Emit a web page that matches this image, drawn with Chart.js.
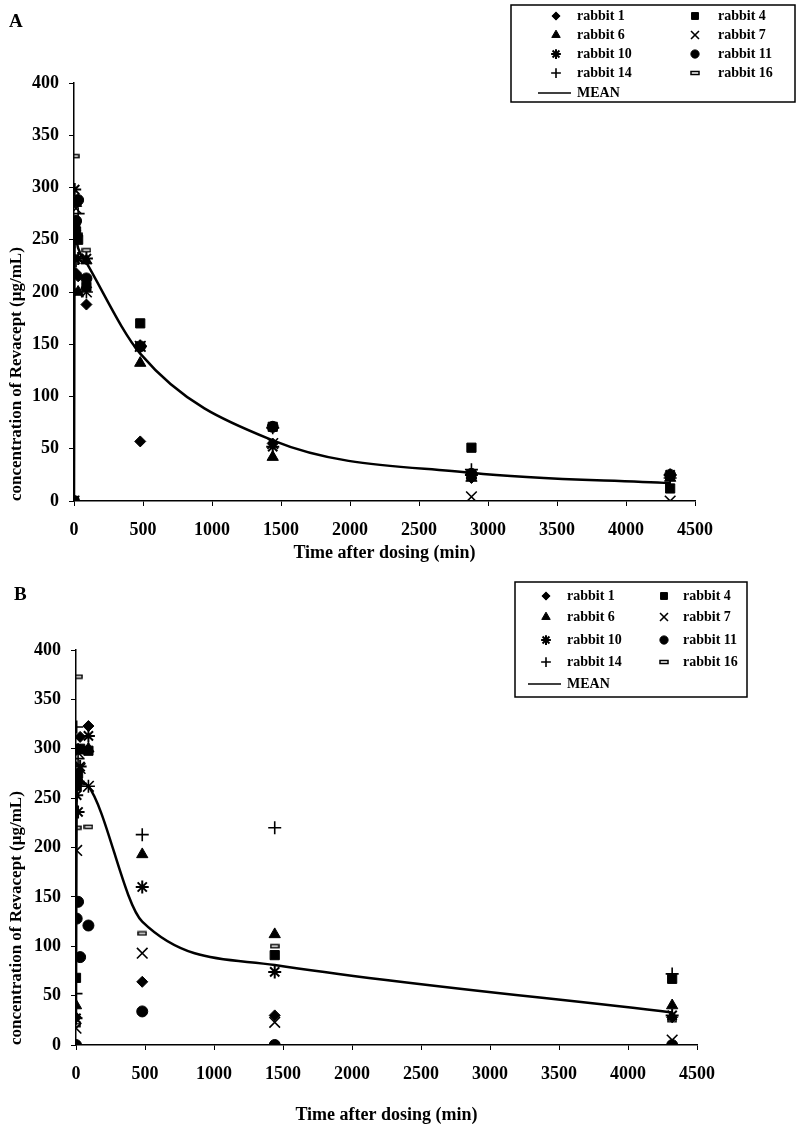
<!DOCTYPE html>
<html>
<head>
<meta charset="utf-8">
<script src="https://cdn.jsdelivr.net/npm/chart.js@4.4.0/dist/chart.umd.min.js"></script>
<style>
    body { margin: 0; background: #fff; width: 800px; height: 1130px; position: relative; overflow: hidden; }
    .panel { position: absolute; left: 0; width: 800px; height: 565px; }
    .tag { position: absolute; font: bold 19px 'Liberation Serif', serif; color: #000; }
</style>
</head>
<body>
<div class="panel" style="top:0"><canvas id="chartA" width="800" height="565"></canvas></div>
<div class="panel" style="top:565px"><canvas id="chartB" width="800" height="565"></canvas></div>
<div class="tag" style="left:9px;top:10px">A</div>
<div class="tag" style="left:14px;top:583px">B</div>
<script>
// sampling times (min)
const timeA = [0, 5, 15, 30, 90, 480, 1440, 2880, 4320];
const timeB = [0, 5, 15, 30, 90, 480, 1440, 4320];

const rabbitLabels = ['rabbit 1', 'rabbit 4', 'rabbit 6', 'rabbit 7', 'rabbit 10', 'rabbit 11', 'rabbit 14', 'rabbit 16'];

// panel A - concentration (µg/mL)
const r1A  = [0, 252, 218, 215, 188, 57, 55, 22, 25];
const r4A  = [0, 262, 258, 250, 205, 170, 71, 51, 12];
const r6A  = [0, 258, 285, 200, 230, 132, 42, 22, 22];
const r7A  = [0, 232, 280, 200, 200, 148, 55, 4, 0];
const r10A = [0, 298, 255, 232, 232, 148, 52, 25, 25];
const r11A = [0, 265, 268, 288, 213, 148, 71, 26, 25];
const r14A = [0, 248, 230, 275, 200, 148, 70, 30, 22];
const r16A = [0, 330, 250, 255, 240, 148, 70, 28, 22];
const meanA = [0, 262, 252, 242, 228, 141, 58, 27, 17];

// panel B - concentration (µg/mL)
const r1B  = [28, 270, 300, 312, 323, 64, 30, 28];
const r4B  = [68, 262, 275, 300, 298, null, 91, 67];
const r6B  = [40, 265, 270, 298, 300, 193, 112, 40];
const r7B  = [17, 197, 296, 280, 262, 93, 23, 5];
const r10B = [27, 253, 236, 282, 313, 160, 74, 30];
const r11B = [0, 128, 145, 89, 121, 34, 0, 0];
const r14B = [52, 322, 290, 265, 262, 213, 220, 72];
const r16B = [20, 220, 373, 265, 221, 113, 100, 25];
const meanB = [25, 265, 268, 266, 262, 125, 81, 33];

const yTicks = [0, 50, 100, 150, 200, 250, 300, 350, 400];
const xTicks = [0, 500, 1000, 1500, 2000, 2500, 3000, 3500, 4000, 4500];

const FONT = "'Liberation Serif', 'Times New Roman', serif";

// small hollow dash used for rabbit 16
function dashMarker() {
    const c = document.createElement('canvas');
    c.width = 10;
    c.height = 6;
    const g = c.getContext('2d');
    g.strokeStyle = '#000';
    g.lineWidth = 1.5;
    g.strokeRect(1, 1.5, 8, 3);
    return c;
}

const markers = [
    { style: 'rectRot', r: 5.5 },
    { style: 'rect', r: 6.5 },
    { style: 'triangle', r: 6.5 },
    { style: 'crossRot', r: 7.5, bw: 1.6 },
    { style: 'star', r: 6.5, bw: 2 },
    { style: 'circle', r: 5.5 },
    { style: 'cross', r: 6.5, bw: 1.6 },
    { style: dashMarker(), r: 5 }
];

function makeDatasets(times, series, mean) {
    const ds = series.map((vals, i) => ({
        label: rabbitLabels[i],
        data: times.map((t, j) => ({ x: t, y: vals[j] })).filter(p => p.y !== null),
        showLine: false,
        pointStyle: markers[i].style,
        pointRadius: markers[i].r,
        pointBorderWidth: markers[i].bw || 1,
        backgroundColor: '#000',
        borderColor: '#000'
    }));
    ds.push({
        label: 'MEAN',
        data: times.map((t, j) => ({ x: t, y: mean[j] })),
        showLine: true,
        borderColor: '#000',
        borderWidth: 2.5,
        pointRadius: 0,
        cubicInterpolationMode: 'monotone',
        fill: false
    });
    return ds;
}

// legend drawn in a box, two columns like the original
const boxLegend = {
    id: 'boxLegend',
    afterDraw(chart, args, opts) {
        const ctx = chart.ctx;
        ctx.save();
        ctx.strokeStyle = '#000';
        ctx.fillStyle = '#000';
        ctx.lineWidth = 1.5;
        ctx.strokeRect(opts.x, opts.y, opts.w, opts.h);
        ctx.font = 'bold 14px ' + FONT;
        ctx.textBaseline = 'middle';
        ctx.textAlign = 'left';
        rabbitLabels.forEach((lab, i) => {
            const col = i % 2;
            const cy = opts.rowY[Math.floor(i / 2)];
            const m = markers[i];
            ctx.lineWidth = m.bw || 1;
            Chart.helpers.drawPoint(ctx, {
                pointStyle: m.style,
                radius: m.r * 0.75,
                borderWidth: m.bw || 1,
                rotation: 0
            }, opts.markX[col], cy);
            ctx.fillText(lab, opts.labelX[col], cy);
        });
        const my = opts.rowY[4];
        ctx.lineWidth = 1.5;
        ctx.beginPath();
        ctx.moveTo(opts.meanX[0], my);
        ctx.lineTo(opts.meanX[1], my);
        ctx.stroke();
        ctx.fillText('MEAN', opts.labelX[0], my);
        ctx.restore();
    }
};

function buildChart(id, times, series, mean, geo) {
    const tickFont = { family: FONT, size: 18, weight: 'bold' };
    return new Chart(document.getElementById(id), {
        type: 'scatter',
        data: { datasets: makeDatasets(times, series, mean) },
        options: {
            responsive: false,
            animation: false,
            events: [],
            layout: { padding: { left: 0, top: geo.top, right: 800 - geo.right, bottom: 0 } },
            plugins: {
                legend: { display: false },
                tooltip: { enabled: false },
                boxLegend: geo.legend
            },
            scales: {
                x: {
                    type: 'linear',
                    min: xTicks[0],
                    max: xTicks[xTicks.length - 1],
                    afterBuildTicks: s => { s.ticks = xTicks.map(v => ({ value: v })); },
                    ticks: {
                        color: '#000', font: tickFont, padding: geo.xTickPad,
                        maxRotation: 0, autoSkip: false,
                        callback: v => String(v)
                    },
                    grid: { drawOnChartArea: false, drawTicks: true, tickLength: 5, color: '#000' },
                    border: { display: true, color: '#000', width: 1.5 },
                    title: {
                        display: true,
                        text: 'Time after dosing (min)',
                        color: '#000',
                        font: { family: FONT, size: 18, weight: 'bold' },
                        padding: { top: 0, bottom: geo.xTitlePad }
                    },
                    afterFit: s => { s.height = 565 - geo.bottom; }
                },
                y: {
                    type: 'linear',
                    min: yTicks[0],
                    max: yTicks[yTicks.length - 1],
                    afterBuildTicks: s => { s.ticks = yTicks.map(v => ({ value: v })); },
                    ticks: { color: '#000', font: tickFont, padding: 10, callback: v => String(v) },
                    grid: { drawOnChartArea: false, drawTicks: true, tickLength: 5, color: '#000' },
                    border: { display: true, color: '#000', width: 1.5 },
                    title: {
                        display: true,
                        align: 'start',
                        text: 'concentration of Revacept (µg/mL)',
                        color: '#000',
                        font: { family: FONT, size: 17, weight: 'bold' },
                        padding: { top: 6, bottom: 0 }
                    },
                    afterFit: s => { s.width = geo.left; }
                }
            }
        },
        plugins: [boxLegend]
    });
}

buildChart('chartA', timeA, [r1A, r4A, r6A, r7A, r10A, r11A, r14A, r16A], meanA, {
    top: 83, bottom: 501, left: 74, right: 695,
    xTickPad: 14, xTitlePad: 1,
    legend: {
        x: 511, y: 5, w: 284, h: 97,
        rowY: [16, 35, 54, 73, 93],
        markX: [556, 695], labelX: [577, 718], meanX: [538, 571]
    }
});

buildChart('chartB', timeB, [r1B, r4B, r6B, r7B, r10B, r11B, r14B, r16B], meanB, {
    top: 85, bottom: 480, left: 76, right: 697,
    xTickPad: 14, xTitlePad: 4,
    legend: {
        x: 515, y: 17, w: 232, h: 115,
        rowY: [31, 52, 75, 97, 119],
        markX: [546, 664], labelX: [567, 683], meanX: [528, 561]
    }
});
</script>
</body>
</html>
